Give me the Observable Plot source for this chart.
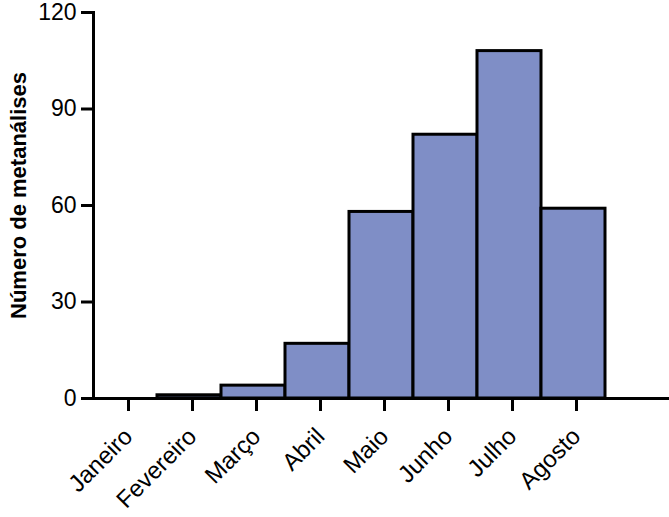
<!DOCTYPE html>
<html>
<head>
<meta charset="utf-8">
<script src="https://cdn.jsdelivr.net/npm/d3@7"></script>
<script src="https://cdn.jsdelivr.net/npm/@observablehq/plot@0.6"></script>
<style>
  html, body { margin: 0; padding: 0; background: #fff; }
  #chart svg { display: block; }
</style>
</head>
<body>
<div id="chart"></div>
<script>
const months = ["Janeiro", "Fevereiro", "Março", "Abril", "Maio", "Junho", "Julho", "Agosto"];
const counts = [0, 1, 4, 17, 58, 82, 108, 59];
const yTicks = [0, 30, 60, 90, 120];
const yLabel = "Número de metanálises";

const data = months.map((m, i) => ({month: m, n: counts[i]}));

const chart = Plot.plot({
  width: 669,
  height: 517,
  marginLeft: 93,
  marginRight: 0,
  marginTop: 12,
  marginBottom: 119,
  style: {fontFamily: "'Liberation Sans', Arial, sans-serif", color: "#000", background: "#fff"},
  x: {domain: [...months, " "], range: [93, 674], padding: 0, align: 0},
  y: {domain: [0, 120], ticks: yTicks},
  marks: [
    Plot.barY(data, {x: "month", y: "n", fill: "#7f8ec6", stroke: "#000", strokeWidth: 3, inset: 0}),
    Plot.ruleY([0], {stroke: "#000", strokeWidth: 3}),
    Plot.frame({anchor: "left", stroke: "#000", strokeWidth: 3}),
    Plot.axisY(yTicks, {tickSize: 12, strokeWidth: 3, fontSize: 23, tickPadding: 5, label: null}),
    Plot.axisX(months, {tickSize: 13, strokeWidth: 3, fontSize: 24, tickRotate: -45, tickPadding: 21, dx: 3, label: null}),
    Plot.text([yLabel], {frameAnchor: "left", rotate: -90, dx: -75, dy: -10, textAnchor: "middle", lineAnchor: "middle", fontSize: 22, fontWeight: "bold"})
  ]
});
document.getElementById("chart").append(chart);
</script>
</body>
</html>
